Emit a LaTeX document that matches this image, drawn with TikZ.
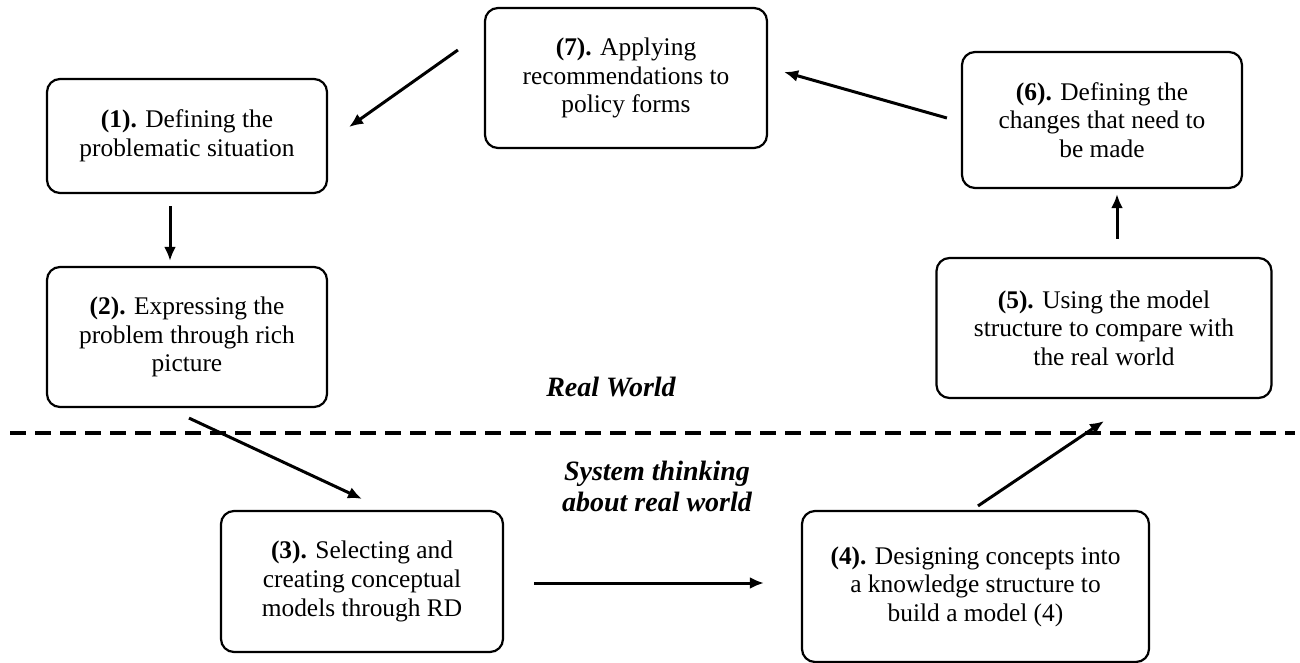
\documentclass[tikz,border=0pt]{standalone}
\usepackage{fontspec}
\setmainfont{Liberation Serif}
\usetikzlibrary{arrows.meta,calc}

\begin{document}
\begin{tikzpicture}[x=.5pt,y=-.5pt,
    stage/.style={draw, line width=1.1pt, rounded corners=6.5pt, align=center,
      inner sep=0pt, font=\fontsize{12.7}{14.3}\selectfont},
    flow/.style={line width=1.5pt, -{Latex[length=7pt,width=6pt]}},
    world/.style={font=\fontsize{14}{15.5}\selectfont\bfseries\itshape, align=center}]
  \useasboundingbox (0,0) rectangle (1300,663);
  \node [stage, minimum width=140pt, minimum height=57pt]   (define)  at (187,136)    {\textbf{(1).} Defining the\\problematic situation};
  \node [stage, minimum width=140pt, minimum height=70pt]   (express) at (187,337)    {\textbf{(2).} Expressing the\\problem through rich\\picture};
  \node [stage, minimum width=141pt, minimum height=70.5pt] (select)  at (362,581.5)  {\textbf{(3).} Selecting and\\creating conceptual\\models through RD};
  \node [stage, minimum width=173.5pt, minimum height=75.5pt] (design) at (975.5,586.5) {\textbf{(4).} Designing concepts into\\a knowledge structure to\\build a model (4)};
  \node [stage, minimum width=167.5pt, minimum height=70pt] (compare) at (1104,328)   {\textbf{(5).} Using the model\\structure to compare with\\the real world};
  \node [stage, minimum width=140pt, minimum height=68pt]   (change)  at (1102,120)   {\textbf{(6).} Defining the\\changes that need to\\be made};
  \node [stage, minimum width=141pt, minimum height=70pt]   (apply)   at (626,78)     {\textbf{(7).} Applying\\recommendations to\\policy forms};
  \draw [line width=2.2pt, dash pattern=on 8pt off 4.5pt] (10,433) -- (1295,433);
  \node [world] (real)   at (611,387) {Real World};
  \node [world] (system) at (657,486) {System thinking\\about real world};
  \draw [flow] ($(apply.west)+(-26,-28)$) -- ($(define.east)+(21,-9)$);
  \draw [flow] ($(define.south)+(-17,12)$) -- ($(express.north)+(-17,-5)$);
  \draw [flow] ($(express.south)+(2,10)$) -- ($(select.north)+(0,-11)$);
  \draw [flow] ($(select.east)+(30,1.5)$) -- ($(design.west)+(-37,-3.5)$);
  \draw [flow] ($(design.north)+(2.5,-4)$) -- ($(compare.south)+(0,22)$);
  \draw [flow] ($(compare.north)+(13,-18)$) -- ($(change.south)+(15,5)$);
  \draw [flow] ($(change.west)+(-14,-2)$) -- ($(apply.east)+(16,-6)$);
\end{tikzpicture}
\end{document}
